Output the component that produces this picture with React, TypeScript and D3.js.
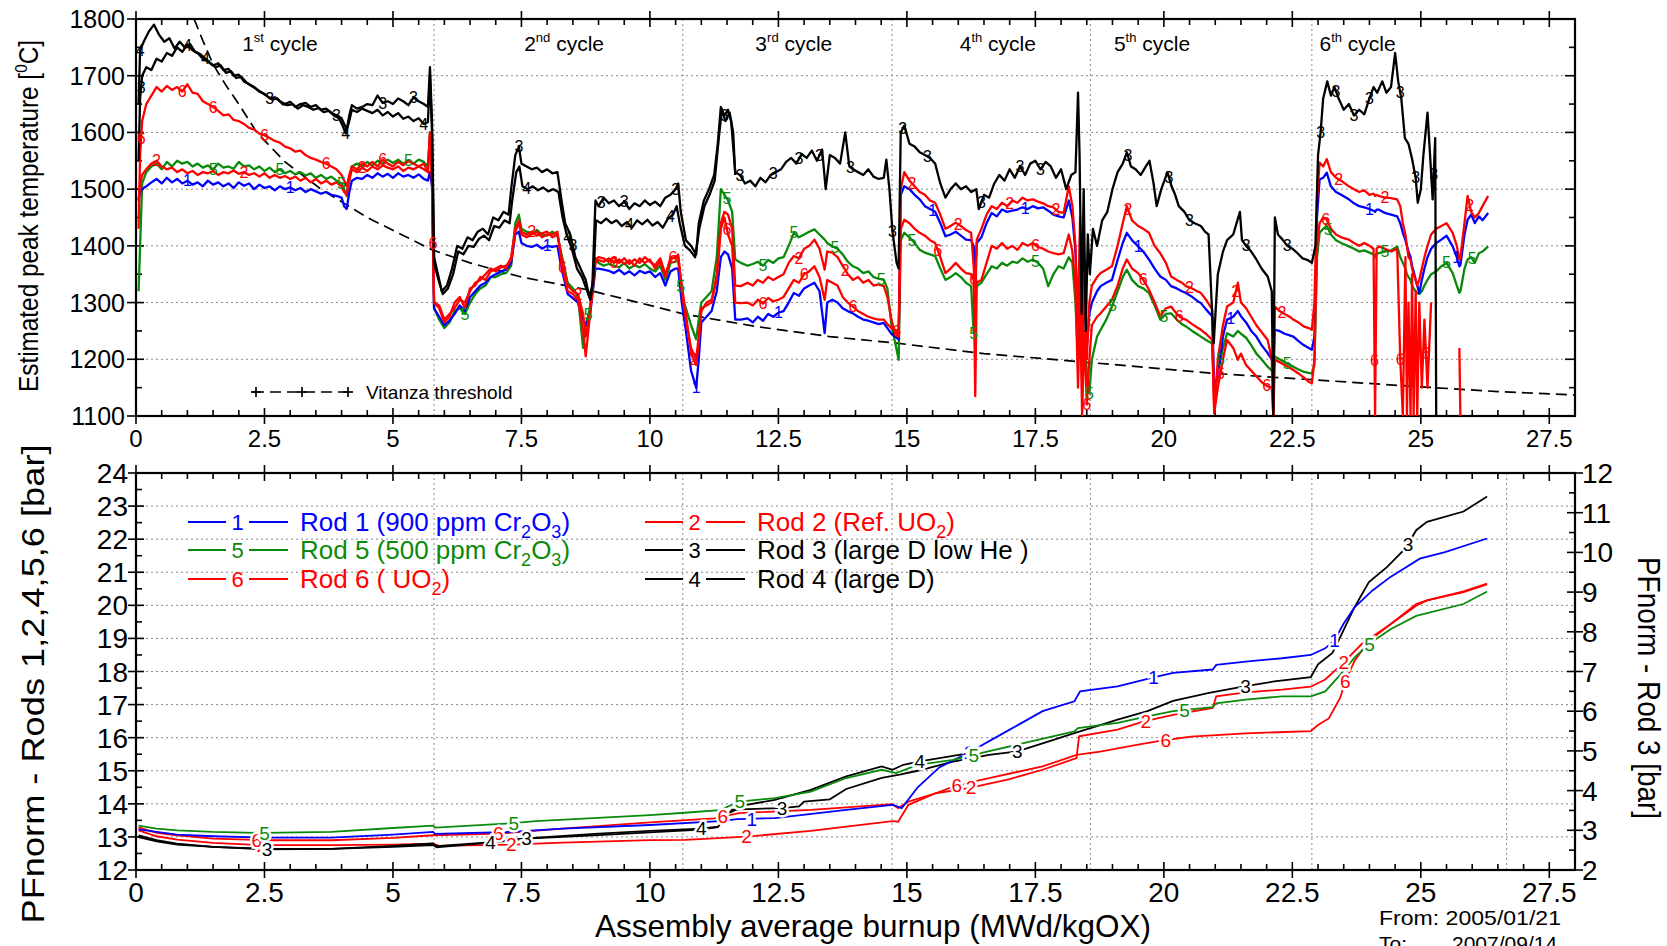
import React, { useEffect, useRef } from "react";
import * as d3 from "d3";

type Pt = [number, number | null];

const W = 1667;
const H = 946;

// ---------- axes / annotations ----------
const burnupTicks = [0, 2.5, 5, 7.5, 10, 12.5, 15, 17.5, 20, 22.5, 25, 27.5];
const tempTicks = [1100, 1200, 1300, 1400, 1500, 1600, 1700, 1800];
const pfLeftTicks = [12, 13, 14, 15, 16, 17, 18, 19, 20, 21, 22, 23, 24];
const pfRightTicks = [2, 3, 4, 5, 6, 7, 8, 9, 10, 11, 12];
const cycleEnds = [5.8, 10.64, 14.71, 18.57, 22.88];
const lastCycleEnd = 26.67;
const cycleNumbers = ["1", "2", "3", "4", "5", "6"];
const cycleSuffix = ["st", "nd", "rd", "th", "th", "th"];
const cycleLabelX = [2.8, 8.33, 12.8, 16.77, 19.77, 23.77];

// ---------- top: estimated peak temperature ----------
// rows: [burnup, rod2, rod6, rod5, rod1]
const cycle1Temps = [
  [0.05, 1480, 1430, 1320, 1480], [0.08, 1510, 1560, 1400, 1495], [0.12, 1525, 1620, 1510, 1500],
  [0.2, 1535, 1650, 1530, 1505], [0.3, 1545, 1665, 1540, 1512], [0.4, 1550, 1680, 1545, 1518],
  [0.5, 1540, 1672, 1535, 1510], [0.6, 1535, 1682, 1548, 1520], [0.7, 1538, 1675, 1540, 1512],
  [0.8, 1530, 1680, 1550, 1518], [0.9, 1535, 1672, 1545, 1510], [1.0, 1528, 1685, 1548, 1515],
  [1.1, 1532, 1670, 1540, 1508], [1.2, 1525, 1668, 1545, 1512], [1.3, 1530, 1655, 1538, 1505],
  [1.4, 1528, 1650, 1542, 1515], [1.5, 1532, 1645, 1535, 1508], [1.6, 1525, 1638, 1545, 1512],
  [1.7, 1530, 1630, 1538, 1505], [1.8, 1528, 1632, 1540, 1510], [1.9, 1533, 1622, 1536, 1502],
  [2.0, 1527, 1620, 1548, 1512], [2.1, 1530, 1615, 1540, 1506], [2.2, 1525, 1608, 1542, 1510],
  [2.3, 1528, 1605, 1535, 1500], [2.4, 1522, 1598, 1540, 1508], [2.5, 1528, 1595, 1532, 1502],
  [2.6, 1520, 1590, 1538, 1505], [2.7, 1525, 1585, 1530, 1498], [2.8, 1520, 1582, 1535, 1505],
  [2.9, 1523, 1575, 1528, 1500], [3.0, 1518, 1572, 1532, 1503], [3.1, 1522, 1566, 1526, 1498],
  [3.2, 1515, 1568, 1530, 1502], [3.3, 1520, 1560, 1524, 1495], [3.4, 1512, 1555, 1528, 1500],
  [3.5, 1518, 1552, 1520, 1496], [3.6, 1510, 1548, 1525, 1492], [3.7, 1515, 1545, 1518, 1495],
  [3.8, 1508, 1540, 1522, 1490], [3.9, 1512, 1535, 1515, 1488], [4.0, 1505, 1525, 1510, 1485],
  [4.05, 1495, 1515, 1500, 1470], [4.1, 1490, 1505, 1488, 1465], [4.15, 1515, 1525, 1520, 1495],
  [4.2, 1535, 1540, 1540, 1515], [4.3, 1530, 1535, 1545, 1520], [4.4, 1538, 1545, 1540, 1518],
  [4.5, 1532, 1540, 1548, 1525], [4.6, 1540, 1548, 1542, 1520], [4.7, 1535, 1540, 1550, 1528],
  [4.8, 1542, 1552, 1545, 1522], [4.9, 1538, 1545, 1552, 1527], [5.0, 1535, 1540, 1546, 1520],
  [5.1, 1540, 1548, 1552, 1528], [5.2, 1532, 1542, 1545, 1522], [5.3, 1538, 1550, 1550, 1525],
  [5.4, 1535, 1545, 1545, 1520], [5.5, 1540, 1540, 1552, 1526], [5.6, 1535, 1545, 1548, 1518],
  [5.68, 1530, 1530, 1540, 1515], [5.72, 1595, 1600, 1600, 1530], [5.76, 1520, 1510, 1530, 1505],
];
const cycle2Temps = [
  [5.8, 1300, 1300, 1290, 1290], [5.9, 1290, 1295, 1270, 1275], [6.0, 1265, 1270, 1255, 1260],
  [6.1, 1275, 1280, 1265, 1268], [6.2, 1300, 1290, 1285, 1280], [6.3, 1310, 1305, 1290, 1295],
  [6.4, 1290, 1300, 1280, 1285], [6.5, 1325, 1320, 1300, 1310], [6.6, 1330, 1335, 1315, 1320],
  [6.7, 1345, 1340, 1325, 1330], [6.8, 1340, 1350, 1330, 1335], [6.9, 1355, 1360, 1345, 1345],
  [7.0, 1360, 1355, 1345, 1350], [7.1, 1365, 1362, 1350, 1355], [7.2, 1360, 1365, 1352, 1358],
  [7.3, 1380, 1375, 1365, 1370], [7.38, 1430, 1425, 1440, 1420], [7.45, 1445, 1440, 1455, 1425],
  [7.5, 1425, 1420, 1430, 1405], [7.6, 1420, 1415, 1425, 1400], [7.7, 1425, 1420, 1422, 1398],
  [7.8, 1418, 1425, 1428, 1402], [7.9, 1422, 1415, 1420, 1395], [8.0, 1425, 1420, 1418, 1400],
  [8.1, 1415, 1420, 1425, 1398], [8.2, 1420, 1425, 1420, 1400], [8.28, 1380, 1370, 1385, 1360],
  [8.4, 1330, 1320, 1335, 1315], [8.5, 1320, 1315, 1325, 1308], [8.6, 1315, 1305, 1310, 1300],
  [8.7, 1280, 1250, 1220, 1270], [8.75, 1240, 1205, 1260, 1260], [8.83, 1280, 1275, 1290, 1275],
  [8.94, 1375, 1370, 1378, 1360], [9.0, 1380, 1375, 1370, 1360], [9.1, 1378, 1372, 1365, 1358],
  [9.2, 1372, 1378, 1368, 1356], [9.3, 1380, 1370, 1365, 1352], [9.4, 1370, 1376, 1362, 1358],
  [9.5, 1378, 1368, 1370, 1350], [9.6, 1368, 1375, 1360, 1355], [9.7, 1376, 1365, 1366, 1348],
  [9.8, 1370, 1378, 1362, 1356], [9.9, 1380, 1370, 1368, 1352], [10.0, 1372, 1376, 1360, 1355],
  [10.1, 1366, 1360, 1355, 1345], [10.2, 1378, 1372, 1365, 1352], [10.3, 1350, 1345, 1340, 1330],
  [10.4, 1375, 1380, 1370, 1355], [10.5, 1382, 1378, 1372, 1360], [10.55, 1380, 1385, 1375, 1360],
  [10.62, 1330, 1320, 1310, 1300],
];
const cycle3Temps = [
  [10.7, 1280, 1270, 1290, 1250], [10.8, 1210, 1220, 1260, 1180], [10.9, 1190, 1200, 1235, 1150],
  [10.95, 1230, 1240, 1270, 1200], [11.0, 1290, 1285, 1300, 1265], [11.1, 1295, 1300, 1310, 1275],
  [11.2, 1300, 1305, 1320, 1285], [11.3, 1350, 1340, 1380, 1320], [11.38, 1440, 1430, 1500, 1380],
  [11.45, 1460, 1450, 1490, 1390], [11.52, 1455, 1420, 1480, 1385], [11.6, 1430, 1400, 1460, 1360],
  [11.66, 1330, 1300, 1376, 1270], [11.77, 1329, 1299, 1370, 1270], [11.9, 1335, 1300, 1365, 1272],
  [12.0, 1330, 1295, 1368, 1265], [12.1, 1340, 1305, 1372, 1275], [12.2, 1335, 1298, 1365, 1268],
  [12.3, 1345, 1308, 1375, 1280], [12.4, 1340, 1302, 1370, 1275], [12.5, 1345, 1305, 1378, 1282],
  [12.6, 1350, 1310, 1380, 1285], [12.7, 1370, 1325, 1400, 1300], [12.8, 1382, 1340, 1423, 1317],
  [12.9, 1378, 1335, 1415, 1312], [13.0, 1395, 1350, 1420, 1325], [13.1, 1400, 1355, 1425, 1330],
  [13.2, 1411, 1364, 1429, 1335], [13.3, 1395, 1345, 1420, 1320], [13.4, 1358, 1305, 1411, 1246],
  [13.45, 1390, 1340, 1405, 1300], [13.55, 1388, 1335, 1399, 1305], [13.65, 1380, 1330, 1395, 1300],
  [13.75, 1365, 1310, 1385, 1290], [13.85, 1350, 1300, 1372, 1285], [13.95, 1340, 1293, 1364, 1281],
  [14.05, 1345, 1285, 1360, 1275], [14.15, 1335, 1280, 1352, 1270], [14.25, 1340, 1275, 1355, 1268],
  [14.35, 1330, 1272, 1345, 1265], [14.45, 1332, 1270, 1342, 1262], [14.55, 1329, 1270, 1340, 1264],
  [14.62, 1310, 1262, 1325, 1255], [14.7, 1270, 1255, 1260, 1245], [14.77, 1246, 1252, 1230, 1240],
  [14.84, 1240, 1245, 1199, 1235],
];
const cycle4Temps = [
  [14.88, 1500, 1430, 1410, 1490], [14.95, 1530, 1446, 1423, 1505], [15.05, 1515, 1440, 1415, 1500],
  [15.15, 1505, 1430, 1405, 1490], [15.25, 1495, 1423, 1393, 1482], [15.35, 1490, 1418, 1388, 1470],
  [15.45, 1480, 1410, 1385, 1465], [15.55, 1476, 1405, 1382, 1460], [15.65, 1455, 1380, 1360, 1440],
  [15.75, 1430, 1352, 1340, 1417], [15.85, 1435, 1360, 1345, 1420], [15.95, 1441, 1370, 1352, 1425],
  [16.05, 1435, 1360, 1345, 1418], [16.15, 1428, 1352, 1335, 1411], [16.25, 1423, 1350, 1329, 1410],
  [16.3, 1364, 1340, 1246, 1400], [16.33, 1300, 1135, 1330, 1350], [16.36, 1411, 1335, 1329, 1405],
  [16.45, 1430, 1340, 1335, 1415], [16.55, 1455, 1370, 1350, 1440], [16.65, 1470, 1400, 1364, 1458],
  [16.75, 1465, 1395, 1360, 1452], [16.85, 1476, 1405, 1370, 1464], [16.95, 1470, 1395, 1365, 1460],
  [17.05, 1480, 1400, 1372, 1462], [17.15, 1476, 1393, 1370, 1464], [17.25, 1485, 1405, 1378, 1468],
  [17.35, 1480, 1400, 1372, 1465], [17.45, 1482, 1405, 1376, 1470], [17.55, 1478, 1398, 1370, 1466],
  [17.65, 1475, 1395, 1360, 1468], [17.75, 1470, 1390, 1329, 1462], [17.85, 1468, 1387, 1350, 1455],
  [17.95, 1460, 1385, 1364, 1452], [18.05, 1458, 1387, 1360, 1450], [18.15, 1505, 1420, 1380, 1480],
  [18.22, 1470, 1390, 1370, 1450], [18.28, 1400, 1330, 1300, 1390], [18.33, 1250, 1150, 1200, 1260],
  [18.37, 1450, 1300, 1280, 1420], [18.41, 1150, 1100, 1160, 1200], [18.45, 1380, 1250, 1240, 1350],
  [18.5, 1200, 1120, 1180, 1220], [18.55, 1300, 1200, 1140, 1280],
];
const cycle5Temps = [
  [18.6, 1330, 1260, 1200, 1300], [18.7, 1345, 1275, 1240, 1320], [18.77, 1352, 1281, 1252, 1329],
  [18.88, 1358, 1293, 1270, 1335], [18.99, 1364, 1305, 1293, 1340], [19.1, 1400, 1330, 1320, 1375],
  [19.2, 1440, 1360, 1345, 1405], [19.28, 1470, 1376, 1358, 1423], [19.38, 1445, 1360, 1340, 1410],
  [19.5, 1435, 1352, 1329, 1399], [19.6, 1430, 1340, 1325, 1390], [19.71, 1423, 1323, 1317, 1376],
  [19.82, 1400, 1300, 1295, 1360], [19.93, 1387, 1276, 1270, 1346], [20.04, 1370, 1290, 1280, 1340],
  [20.14, 1346, 1293, 1281, 1329], [20.25, 1340, 1280, 1270, 1325], [20.35, 1335, 1272, 1262, 1320],
  [20.43, 1329, 1270, 1258, 1317], [20.55, 1325, 1262, 1250, 1310], [20.65, 1320, 1256, 1244, 1303],
  [20.72, 1317, 1252, 1240, 1299], [20.82, 1305, 1245, 1234, 1288], [20.94, 1288, 1234, 1228, 1276],
  [20.98, 1105, 1105, 1130, 1150], [21.05, 1200, 1150, 1180, 1170], [21.15, 1260, 1200, 1220, 1240],
  [21.23, 1293, 1234, 1246, 1270], [21.35, 1300, 1220, 1240, 1275], [21.44, 1335, 1199, 1250, 1285],
  [21.5, 1300, 1210, 1245, 1276], [21.6, 1290, 1190, 1238, 1265], [21.7, 1275, 1180, 1225, 1250],
  [21.8, 1260, 1170, 1210, 1240], [21.9, 1248, 1160, 1200, 1225], [22.02, 1234, 1152, 1187, 1211],
  [22.1, 1200, 1150, 1180, 1200], [22.13, 1100, 1100, 1170, 1190], [22.16, 1293, 1199, 1205, 1252],
  [22.25, 1285, 1195, 1200, 1250], [22.35, 1280, 1190, 1195, 1245], [22.45, 1275, 1185, 1190, 1242],
  [22.52, 1270, 1181, 1187, 1240], [22.62, 1265, 1175, 1182, 1232], [22.72, 1258, 1168, 1178, 1225],
  [22.82, 1255, 1160, 1176, 1220], [22.88, 1252, 1158, 1175, 1217], [22.93, 1300, 1200, 1190, 1240],
];
const cycle6Temps = [
  [22.98, 1480, 1400, 1380, 1450], [23.03, 1547, 1440, 1423, 1517], [23.1, 1540, 1450, 1430, 1520],
  [23.17, 1553, 1446, 1435, 1529], [23.25, 1530, 1430, 1420, 1505], [23.35, 1520, 1420, 1410, 1495],
  [23.45, 1515, 1415, 1405, 1490], [23.6, 1505, 1411, 1399, 1482], [23.7, 1500, 1405, 1395, 1475],
  [23.8, 1495, 1400, 1390, 1470], [23.9, 1498, 1405, 1392, 1468], [24.0, 1490, 1400, 1388, 1465],
  [24.08, 1492, 1395, 1385, 1462], [24.11, 1488, 1100, 1380, 1460], [24.14, 1490, 1395, 1387, 1464],
  [24.18, 1488, 1399, 1387, 1464], [24.3, 1485, 1395, 1390, 1458], [24.42, 1484, 1390, 1392, 1455],
  [24.54, 1482, 1395, 1399, 1452], [24.6, 1470, 1200, 1380, 1440], [24.65, 1440, 1100, 1370, 1423],
  [24.7, 1420, 1380, 1360, 1410], [24.73, 1400, 1100, 1350, 1400], [24.76, 1380, 1300, 1345, 1390],
  [24.8, 1375, 1100, 1340, 1380], [24.83, 1360, 1350, 1330, 1364], [24.86, 1350, 1100, 1325, 1355],
  [24.9, 1340, 1320, 1320, 1340], [24.93, 1330, 1100, 1317, 1330], [24.97, 1340, 1300, 1315, 1317],
  [25.02, 1360, 1150, 1320, 1340], [25.07, 1380, 1270, 1330, 1360], [25.13, 1400, 1150, 1340, 1380],
  [25.2, 1420, 1300, 1350, 1395], [25.3, 1430, null, 1355, 1405], [25.4, 1435, null, 1364, 1411],
  [25.5, 1440, null, 1370, 1418], [25.62, 1423, null, 1352, 1399], [25.7, 1400, null, 1330, 1380],
  [25.75, 1376, 1220, 1317, 1364], [25.77, 1380, 1100, 1320, 1366], [25.85, 1440, null, 1360, 1420],
  [25.91, 1488, null, 1376, 1446], [25.98, 1460, null, 1380, 1455], [26.05, 1450, null, 1370, 1440],
  [26.13, 1458, null, 1387, 1452], [26.2, 1470, null, 1390, 1445], [26.31, 1488, null, 1399, 1458],
];

const rod3Temp: Pt[] = [
  [0.05, 1550], [0.08, 1660], [0.12, 1700], [0.2, 1715], [0.3, 1710], [0.4, 1730], [0.5, 1725], [0.6, 1740],
  [0.7, 1735], [0.8, 1750], [0.9, 1742], [1.0, 1755], [1.1, 1745], [1.2, 1740], [1.3, 1730], [1.4, 1725],
  [1.5, 1718], [1.6, 1722], [1.7, 1710], [1.8, 1712], [1.9, 1700], [2.0, 1702], [2.1, 1690], [2.2, 1685],
  [2.3, 1680], [2.4, 1672], [2.5, 1668], [2.6, 1660], [2.7, 1662], [2.8, 1655], [2.9, 1650], [3.0, 1654],
  [3.1, 1645], [3.2, 1650], [3.3, 1652], [3.4, 1645], [3.5, 1648], [3.6, 1640], [3.7, 1642], [3.8, 1635],
  [3.9, 1630], [4.0, 1625], [4.05, 1615], [4.1, 1605], [4.15, 1630], [4.2, 1648], [4.3, 1642], [4.4, 1645],
  [4.5, 1650], [4.6, 1648], [4.7, 1665], [4.8, 1652], [4.9, 1655], [5.0, 1650], [5.1, 1660], [5.2, 1655],
  [5.3, 1648], [5.4, 1662], [5.5, 1655], [5.6, 1650], [5.68, 1645], [5.72, 1715], [5.76, 1620], [5.8, 1380],
  [5.85, 1360], [5.95, 1320], [6.05, 1330], [6.15, 1360], [6.25, 1400], [6.35, 1395], [6.45, 1415], [6.55, 1410],
  [6.65, 1425], [6.75, 1430], [6.85, 1420], [6.95, 1450], [7.05, 1445], [7.15, 1460], [7.25, 1455], [7.3, 1500],
  [7.38, 1560], [7.45, 1575], [7.5, 1545], [7.6, 1540], [7.7, 1535], [7.8, 1538], [7.9, 1530], [8.0, 1535],
  [8.1, 1528], [8.2, 1530], [8.28, 1480], [8.35, 1440], [8.45, 1420], [8.55, 1380], [8.65, 1360], [8.75, 1340],
  [8.82, 1310], [8.88, 1330], [8.94, 1480], [9.0, 1470], [9.1, 1485], [9.2, 1475], [9.3, 1480], [9.4, 1470],
  [9.5, 1478], [9.6, 1465], [9.7, 1475], [9.8, 1470], [9.9, 1480], [10.0, 1472], [10.1, 1478], [10.2, 1470],
  [10.3, 1485], [10.4, 1490], [10.5, 1500], [10.55, 1510], [10.6, 1460], [10.7, 1410], [10.8, 1400], [10.9, 1385],
  [10.95, 1440], [11.05, 1480], [11.15, 1500], [11.25, 1525], [11.32, 1580], [11.38, 1645], [11.45, 1630],
  [11.52, 1640], [11.58, 1620], [11.66, 1530], [11.75, 1525], [11.85, 1510], [11.95, 1515], [12.05, 1505],
  [12.15, 1520], [12.25, 1512], [12.35, 1525], [12.45, 1530], [12.55, 1535], [12.65, 1548], [12.75, 1555],
  [12.85, 1545], [12.95, 1562], [13.05, 1555], [13.15, 1568], [13.25, 1550], [13.35, 1570], [13.42, 1500],
  [13.5, 1560], [13.6, 1555], [13.7, 1545], [13.8, 1600], [13.88, 1540], [13.95, 1535], [14.05, 1530],
  [14.15, 1525], [14.25, 1535], [14.35, 1522], [14.45, 1518], [14.55, 1520], [14.6, 1552], [14.66, 1500],
  [14.72, 1425], [14.8, 1370], [14.84, 1360], [14.88, 1600], [14.95, 1612], [15.05, 1580], [15.15, 1575],
  [15.25, 1565], [15.35, 1560], [15.45, 1555], [15.55, 1545], [15.65, 1510], [15.75, 1485], [15.85, 1500],
  [15.95, 1510], [16.05, 1500], [16.15, 1505], [16.25, 1495], [16.35, 1500], [16.4, 1465], [16.5, 1490],
  [16.6, 1485], [16.7, 1510], [16.8, 1525], [16.9, 1515], [17.0, 1535], [17.1, 1520], [17.2, 1540],
  [17.3, 1525], [17.4, 1545], [17.5, 1550], [17.6, 1535], [17.7, 1548], [17.8, 1540], [17.9, 1520],
  [18.0, 1535], [18.1, 1500], [18.2, 1525], [18.28, 1530], [18.33, 1670], [18.36, 1560], [18.4, 1280],
  [18.44, 1500], [18.48, 1250], [18.52, 1420], [18.56, 1350], [18.62, 1430], [18.7, 1400], [18.8, 1445],
  [18.9, 1460], [19.0, 1500], [19.1, 1530], [19.2, 1545], [19.28, 1565], [19.36, 1540], [19.45, 1535],
  [19.55, 1525], [19.65, 1540], [19.72, 1550], [19.8, 1510], [19.86, 1470], [19.95, 1500], [20.07, 1530],
  [20.15, 1505], [20.22, 1490], [20.29, 1470], [20.4, 1460], [20.5, 1445], [20.6, 1440], [20.72, 1435],
  [20.8, 1425], [20.87, 1420], [20.93, 1300], [20.97, 1228], [21.05, 1350], [21.15, 1390], [21.23, 1410],
  [21.35, 1420], [21.48, 1460], [21.52, 1410], [21.6, 1400], [21.7, 1390], [21.8, 1376], [21.9, 1360],
  [22.02, 1346], [22.1, 1320], [22.13, 1100], [22.16, 1450], [22.22, 1420], [22.31, 1411], [22.4, 1400],
  [22.5, 1395], [22.6, 1387], [22.7, 1378], [22.8, 1375], [22.88, 1370], [22.95, 1400], [23.0, 1560],
  [23.05, 1600], [23.1, 1660], [23.18, 1690], [23.25, 1665], [23.32, 1680], [23.4, 1660], [23.5, 1640],
  [23.6, 1650], [23.7, 1630], [23.8, 1640], [23.9, 1632], [24.0, 1660], [24.08, 1680], [24.15, 1670],
  [24.25, 1690], [24.33, 1670], [24.42, 1680], [24.5, 1740], [24.56, 1690], [24.62, 1660], [24.69, 1590],
  [24.76, 1580], [24.83, 1553], [24.9, 1520], [24.94, 1476], [25.0, 1500], [25.05, 1560], [25.13, 1635],
  [25.18, 1560], [25.23, 1482], [25.28, 1590], [25.3, 1080],
];

const rod4Temp: Pt[] = [
  [0.05, 1650], [0.08, 1745], [0.15, 1760], [0.25, 1778], [0.35, 1790], [0.45, 1772], [0.55, 1760],
  [0.65, 1766], [0.75, 1748], [0.85, 1760], [0.95, 1750], [1.05, 1756], [1.15, 1742], [1.25, 1738],
  [1.35, 1730], [1.45, 1722], [1.55, 1715], [1.65, 1718], [1.75, 1705], [1.85, 1708], [1.95, 1696],
  [2.05, 1698], [2.15, 1688], [2.25, 1682], [2.35, 1676], [2.45, 1670], [2.55, 1664], [2.65, 1658],
  [2.75, 1660], [2.85, 1650], [2.95, 1648], [3.05, 1650], [3.15, 1642], [3.25, 1648], [3.35, 1645],
  [3.45, 1640], [3.55, 1643], [3.65, 1636], [3.75, 1638], [3.85, 1630], [3.95, 1625], [4.02, 1612],
  [4.08, 1598], [4.15, 1620], [4.2, 1640], [4.3, 1636], [4.4, 1642], [4.5, 1638], [4.6, 1634], [4.7, 1640],
  [4.8, 1630], [4.9, 1636], [5.0, 1628], [5.1, 1634], [5.2, 1624], [5.3, 1628], [5.4, 1620], [5.5, 1625],
  [5.6, 1615], [5.68, 1618], [5.72, 1700], [5.76, 1600], [5.8, 1370], [5.87, 1345], [5.97, 1315],
  [6.07, 1325], [6.17, 1350], [6.27, 1390], [6.37, 1385], [6.47, 1400], [6.57, 1398], [6.67, 1412],
  [6.77, 1418], [6.87, 1410], [6.97, 1435], [7.07, 1432], [7.17, 1445], [7.27, 1440], [7.32, 1480],
  [7.4, 1530], [7.46, 1540], [7.52, 1505], [7.62, 1500], [7.72, 1505], [7.82, 1498], [7.92, 1503],
  [8.02, 1496], [8.12, 1500], [8.22, 1495], [8.3, 1450], [8.38, 1420], [8.48, 1395], [8.58, 1360],
  [8.68, 1345], [8.78, 1320], [8.84, 1305], [8.9, 1340], [8.95, 1445], [9.05, 1440], [9.15, 1448],
  [9.25, 1440], [9.35, 1445], [9.45, 1435], [9.55, 1442], [9.65, 1432], [9.75, 1445], [9.85, 1438],
  [9.95, 1446], [10.05, 1436], [10.15, 1442], [10.25, 1432], [10.35, 1448], [10.45, 1455], [10.52, 1470],
  [10.58, 1440], [10.68, 1400], [10.78, 1392], [10.88, 1380], [10.96, 1430], [11.06, 1470], [11.16, 1490],
  [11.26, 1515], [11.34, 1590], [11.4, 1640], [11.47, 1620], [11.55, 1635], [11.62, 1600], [11.66, 1525],
];

const vitanzaThreshold: Pt[] = [
  [1.13, 1800], [1.3, 1762], [1.5, 1720], [1.75, 1683], [2.0, 1650], [2.35, 1600], [2.9, 1548],
  [3.6, 1500], [4.5, 1450], [5.76, 1393], [6.5, 1370], [7.5, 1345], [8.76, 1323], [10.0, 1295],
  [10.65, 1280], [12.05, 1258], [13.5, 1240], [14.84, 1228], [16.5, 1210], [18.33, 1196],
  [20.0, 1183], [21.0, 1175], [22.88, 1164], [24.9, 1152], [26.5, 1143], [28.0, 1137],
];

// label positions (burnup) along the temperature traces
const rod1TempLabels = [1.0, 3.0, 8.0, 10.9, 12.5, 15.5, 17.3, 19.5, 21.3, 24.0, 25.7];
const rod2TempLabels = [0.4, 2.1, 4.4, 7.7, 8.6, 10.85, 12.9, 13.8, 15.1, 16.0, 17.0, 17.9, 19.3, 20.5, 21.4, 22.3, 23.4, 24.3, 25.95];
const rod3TempLabels = [0.1, 2.6, 3.9, 4.8, 5.4, 7.45, 8.5, 9.05, 9.5, 10.5, 11.45, 11.75, 12.4, 12.9, 13.3, 13.9, 14.72, 14.92, 15.4, 16.45, 17.2, 17.6, 19.3, 20.1, 20.5, 21.6, 22.4, 23.05, 23.35, 23.7, 24.0, 24.6, 24.9, 25.25];
const rod4TempLabels = [0.08, 1.0, 1.35, 4.08, 5.6, 7.6, 8.4, 9.6, 10.4];
const rod5TempLabels = [1.5, 2.8, 4.0, 5.3, 6.4, 8.8, 10.6, 11.5, 12.2, 12.8, 13.6, 14.5, 15.1, 16.3, 17.5, 18.55, 19.0, 20.0, 21.1, 22.4, 23.2, 24.3, 25.5, 26.0];
const rod6TempLabels = [0.1, 0.9, 1.5, 2.5, 3.7, 4.8, 5.78, 8.3, 9.3, 10.45, 11.5, 12.2, 13.0, 13.95, 14.8, 15.6, 16.3, 17.5, 18.5, 19.6, 20.3, 21.1, 22.0, 23.15, 24.1, 24.6, 25.1];

// ---------- bottom: normalised plenum pressure ----------
const rod1Press: Pt[] = [
  [0.05, 13.23], [0.4, 13.15], [0.8, 13.07], [1.5, 13.02], [2.5, 12.98], [3.8, 12.98], [5.0, 13.07],
  [5.78, 13.15], [5.82, 13.09], [7.3, 13.15], [8.3, 13.25], [10.0, 13.36], [11.36, 13.48], [11.7, 13.54],
  [12.43, 13.57], [13.82, 13.82], [14.72, 13.97], [14.9, 13.87], [15.21, 14.5], [15.63, 15.1],
  [16.25, 15.59], [16.94, 16.19], [17.64, 16.8], [18.26, 17.1], [18.37, 17.4], [19.1, 17.55],
  [19.82, 17.83], [20.18, 17.96], [20.95, 18.06], [21.02, 18.2], [21.59, 18.3], [22.3, 18.4],
  [22.86, 18.5], [23.14, 18.7], [23.32, 18.95], [23.5, 19.45], [23.71, 19.94], [24.06, 20.45],
  [24.41, 20.86], [24.98, 21.41], [25.47, 21.61], [26.29, 22.02],
];
const rod2Press: Pt[] = [
  [0.05, 13.2], [0.4, 13.02], [0.8, 12.92], [1.5, 12.82], [2.5, 12.75], [3.8, 12.75], [5.0, 12.77],
  [5.78, 12.8], [5.9, 12.73], [7.3, 12.77], [8.3, 12.83], [10.0, 12.9], [10.69, 12.91], [11.88, 13.01],
  [13.13, 13.18], [13.82, 13.31], [14.72, 13.48], [14.83, 13.46], [15.03, 13.97], [15.56, 14.32],
  [16.18, 14.47], [17.0, 14.75], [17.64, 15.03], [18.3, 15.38], [18.35, 16.04], [19.1, 16.24],
  [19.61, 16.49], [20.18, 16.69], [20.95, 16.9], [21.02, 17.25], [21.59, 17.37], [22.3, 17.45],
  [22.86, 17.54], [23.14, 17.76], [23.43, 18.17], [23.85, 18.83], [24.41, 19.43], [24.91, 19.99],
  [25.12, 20.15], [25.83, 20.4], [26.29, 20.63],
];
const rod3Press: Pt[] = [
  [0.05, 2.83], [0.4, 2.72], [0.8, 2.64], [1.5, 2.58], [2.5, 2.52], [3.8, 2.53], [5.0, 2.58], [5.78, 2.63],
  [5.85, 2.57], [7.0, 2.7], [7.6, 2.79], [9.0, 2.88], [10.0, 2.95], [11.0, 3.02], [11.32, 3.08],
  [11.6, 3.52], [12.57, 3.56], [12.9, 3.6], [13.0, 3.72], [13.5, 3.78], [13.82, 4.04], [14.51, 4.32],
  [14.86, 4.4], [15.21, 4.5], [15.9, 4.73], [16.6, 4.9], [17.15, 4.99], [17.67, 5.2], [18.26, 5.45],
  [18.76, 5.65], [19.1, 5.79], [19.68, 6.0], [20.18, 6.26], [20.88, 6.46], [21.59, 6.63], [22.15, 6.75],
  [22.86, 6.86], [23.0, 7.18], [23.28, 7.47], [23.46, 7.94], [23.71, 8.62], [23.99, 9.25], [24.34, 9.63],
  [24.7, 10.1], [24.91, 10.56], [25.12, 10.77], [25.83, 11.03], [26.29, 11.41],
];
const rod4Press: Pt[] = [
  [0.05, 13.05], [0.4, 12.9], [0.8, 12.8], [1.5, 12.7], [2.5, 12.64], [3.8, 12.64], [5.0, 12.73],
  [5.78, 12.8], [5.85, 12.72], [7.0, 12.85], [7.5, 12.95], [9.0, 13.1], [10.0, 13.18], [11.0, 13.25],
  [11.32, 13.31], [11.53, 13.72], [11.88, 13.97], [12.43, 14.12], [13.13, 14.42], [13.82, 14.83],
  [14.51, 15.13], [14.72, 15.03], [14.93, 15.18], [15.25, 15.28], [16.25, 15.54],
];
const rod5Press: Pt[] = [
  [0.05, 13.34], [0.4, 13.25], [0.8, 13.2], [1.5, 13.15], [2.5, 13.12], [3.8, 13.15], [5.0, 13.27],
  [5.78, 13.34], [5.83, 13.28], [7.28, 13.41], [7.78, 13.48], [10.0, 13.66], [10.67, 13.73],
  [11.36, 13.81], [11.74, 14.07], [12.43, 14.17], [13.13, 14.37], [13.82, 14.78], [14.51, 15.03],
  [14.79, 14.93], [15.21, 15.18], [15.9, 15.33], [16.6, 15.59], [17.29, 15.84], [18.26, 16.19],
  [18.33, 16.29], [19.1, 16.45], [19.68, 16.64], [20.18, 16.8], [20.95, 16.92], [21.02, 17.04],
  [21.59, 17.15], [22.3, 17.25], [22.86, 17.25], [23.14, 17.4], [23.43, 17.9], [23.71, 18.42],
  [23.99, 18.83], [24.41, 19.28], [24.91, 19.68], [25.83, 20.04], [26.29, 20.42],
];
const rod6Press: Pt[] = [
  [0.05, 13.29], [0.4, 13.12], [0.8, 13.05], [1.5, 12.95], [2.5, 12.9], [3.8, 12.9], [5.0, 12.97],
  [5.78, 13.05], [7.08, 13.1], [8.3, 13.25], [10.0, 13.44], [11.26, 13.56], [11.42, 13.62],
  [11.74, 13.72], [13.13, 13.82], [14.72, 13.99], [14.83, 13.87], [15.03, 14.07], [15.56, 14.32],
  [15.97, 14.56], [16.6, 14.78], [17.64, 15.13], [18.3, 15.48], [18.76, 15.58], [19.47, 15.78],
  [20.04, 15.93], [20.53, 16.03], [21.59, 16.13], [22.86, 16.2], [23.0, 16.38], [23.21, 16.58],
  [23.43, 17.2], [23.53, 17.7], [23.71, 18.32], [23.99, 18.93], [24.41, 19.43], [24.91, 20.04],
  [25.12, 20.15], [25.83, 20.42], [26.29, 20.66],
];

const rod1PressLabels = [11.98, 16.2, 19.8, 23.32];
const rod2PressLabels = [2.45, 7.3, 11.88, 16.25, 19.65, 23.5];
const rod3PressLabels = [2.55, 7.6, 12.57, 17.15, 21.59, 24.75];
const rod4PressLabels = [6.9, 11.0, 15.25];
const rod5PressLabels = [2.5, 7.35, 11.75, 16.3, 20.4, 24.0];
const rod6PressLabels = [2.35, 7.05, 11.42, 15.97, 20.04, 23.53];

const BLUE = "#0000ff";
const RED = "#ff0000";
const GREEN = "#0a8a0a";
const BLACK = "#000000";
const FONT = "'Liberation Sans', Arial, Helvetica, sans-serif";

// legend text: [text, isSubscript]
const legendCol1 = [
  { num: "1", color: BLUE, parts: [["Rod 1 (900 ppm Cr", 0], ["2", 1], ["O", 0], ["3", 1], [")", 0]] },
  { num: "5", color: GREEN, parts: [["Rod 5 (500 ppm Cr", 0], ["2", 1], ["O", 0], ["3", 1], [")", 0]] },
  { num: "6", color: RED, parts: [["Rod 6 ( UO", 0], ["2", 1], [")", 0]] },
];
const legendCol2 = [
  { num: "2", color: RED, parts: [["Rod 2 (Ref. UO", 0], ["2", 1], [")", 0]] },
  { num: "3", color: BLACK, parts: [["Rod 3 (large D low He )", 0]] },
  { num: "4", color: BLACK, parts: [["Rod 4 (large D)", 0]] },
];

function valueAt(s: Pt[], xv: number): number | null {
  const i = d3.bisector((d: Pt) => d[0]).left(s, xv);
  const a = s[Math.max(0, i - 1)];
  const b = s[Math.min(s.length - 1, i)];
  if (a[1] == null || b[1] == null) return (a[1] ?? b[1]) as number | null;
  if (b[0] === a[0]) return a[1];
  const t = (xv - a[0]) / (b[0] - a[0]);
  return a[1] + t * ((b[1] as number) - a[1]);
}

function draw(svgEl: SVGSVGElement) {
  const svg = d3.select(svgEl);
  svg.selectAll("*").remove();
  svg.append("rect").attr("width", W).attr("height", H).attr("fill", "#fff");

  const L = 136, R = 1575;
  const T1 = 19, B1 = 416;
  const T2 = 473, B2 = 870;

  const x = d3.scaleLinear().domain([0, 28]).range([L, R]);
  const yT = d3.scaleLinear().domain([1100, 1800]).range([B1, T1]);
  const yP = d3.scaleLinear().domain([12, 24]).range([B2, T2]);
  const yR = d3.scaleLinear().domain([2, 12]).range([B2, T2]);

  const defs = svg.append("defs");
  defs.append("clipPath").attr("id", "clipTop").append("rect")
    .attr("x", L).attr("y", T1).attr("width", R - L).attr("height", B1 - T1);
  defs.append("clipPath").attr("id", "clipBot").append("rect")
    .attr("x", L).attr("y", T2).attr("width", R - L).attr("height", B2 - T2);

  const grid = (g: any, x1: number, y1: number, x2: number, y2: number) =>
    g.append("line").attr("x1", x1).attr("y1", y1).attr("x2", x2).attr("y2", y2)
      .attr("stroke", "#8a8a8a").attr("stroke-width", 1).attr("stroke-dasharray", "2,3");

  // ---- grids ----
  const gg = svg.append("g");
  tempTicks.slice(1, -1).forEach((v) => grid(gg, L, yT(v), R, yT(v)));
  cycleEnds.forEach((v) => grid(gg, x(v), T1, x(v), B1));
  pfLeftTicks.slice(1, -1).forEach((v) => grid(gg, L, yP(v), R, yP(v)));
  [...cycleEnds, lastCycleEnd].forEach((v) => grid(gg, x(v), T2, x(v), B2));

  // ---- axes ----
  const ax = svg.append("g").attr("stroke", "#000").attr("stroke-width", 1.6);
  const tick = (x1: number, y1: number, x2: number, y2: number) =>
    ax.append("line").attr("x1", x1).attr("y1", y1).attr("x2", x2).attr("y2", y2);
  const minorX = d3.range(0, 28.001, 0.5).filter((v) => Math.abs(v / 2.5 - Math.round(v / 2.5)) > 1e-6);

  [[T1, B1], [T2, B2]].forEach(([t, b]) => {
    burnupTicks.forEach((v) => {
      tick(x(v), b - 8, x(v), b + 8);
      tick(x(v), t - 8, x(v), t + 8);
    });
    minorX.forEach((v) => {
      tick(x(v), b, x(v), b - 6);
      tick(x(v), t, x(v), t + 6);
    });
  });
  tempTicks.forEach((v) => {
    tick(L - 9, yT(v), L + 8, yT(v));
    tick(R, yT(v), R - 10, yT(v));
  });
  d3.range(1150, 1800, 100).forEach((v) => {
    tick(L, yT(v), L + 6, yT(v));
    tick(R, yT(v), R - 6, yT(v));
  });
  pfLeftTicks.forEach((v) => tick(L - 8, yP(v), L + 8, yP(v)));
  d3.range(12.5, 24, 1).forEach((v) => tick(L, yP(v), L + 6, yP(v)));
  pfRightTicks.forEach((v) => tick(R - 8, yR(v), R + 8, yR(v)));
  d3.range(2.5, 12, 1).forEach((v) => tick(R, yR(v), R - 6, yR(v)));

  [[T1, B1], [T2, B2]].forEach(([t, b]) => {
    svg.append("rect").attr("x", L).attr("y", t).attr("width", R - L).attr("height", b - t)
      .attr("fill", "none").attr("stroke", "#000").attr("stroke-width", 2.2);
  });

  // tick labels
  const txt = svg.append("g").attr("font-family", FONT).attr("fill", "#000");
  tempTicks.forEach((v) =>
    txt.append("text").attr("x", L - 11).attr("y", yT(v)).attr("dy", "0.36em")
      .attr("text-anchor", "end").attr("font-size", 25).text(String(v)));
  burnupTicks.forEach((v) =>
    txt.append("text").attr("x", x(v)).attr("y", B1 + 31)
      .attr("text-anchor", "middle").attr("font-size", 24).text(String(v)));
  pfLeftTicks.forEach((v) =>
    txt.append("text").attr("x", L - 8).attr("y", yP(v)).attr("dy", "0.36em")
      .attr("text-anchor", "end").attr("font-size", 28).text(String(v)));
  pfRightTicks.forEach((v) =>
    txt.append("text").attr("x", R + 7).attr("y", yR(v)).attr("dy", "0.36em")
      .attr("text-anchor", "start").attr("font-size", 28).text(String(v)));
  burnupTicks.forEach((v) =>
    txt.append("text").attr("x", x(v)).attr("y", B2 + 32)
      .attr("text-anchor", "middle").attr("font-size", 28).text(String(v)));

  // axis titles
  const yt = txt.append("text").attr("transform", "translate(38,216) rotate(-90)")
    .attr("text-anchor", "middle").attr("font-size", 27)
    .attr("textLength", 352).attr("lengthAdjust", "spacingAndGlyphs");
  yt.append("tspan").text("Estimated peak temperature  [");
  yt.append("tspan").attr("font-size", 17).attr("dy", -11).text("0");
  yt.append("tspan").attr("dy", 11).text("C]");

  txt.append("text").attr("transform", "translate(44,684) rotate(-90)")
    .attr("text-anchor", "middle").attr("font-size", 32)
    .attr("textLength", 479).attr("lengthAdjust", "spacingAndGlyphs")
    .text("PFnorm - Rods 1,2,4,5,6 [bar]");
  txt.append("text").attr("transform", "translate(1638,688) rotate(90)")
    .attr("text-anchor", "middle").attr("font-size", 32)
    .attr("textLength", 262).attr("lengthAdjust", "spacingAndGlyphs")
    .text("PFnorm - Rod 3 [bar]");
  txt.append("text").attr("x", 873).attr("y", 937)
    .attr("text-anchor", "middle").attr("font-size", 32)
    .attr("textLength", 556).attr("lengthAdjust", "spacingAndGlyphs")
    .text("Assembly average burnup (MWd/kgOX)");
  txt.append("text").attr("x", 1379).attr("y", 925).attr("font-size", 21)
    .attr("textLength", 182).attr("lengthAdjust", "spacingAndGlyphs").text("From: 2005/01/21");
  txt.append("text").attr("x", 1379).attr("y", 951).attr("font-size", 21).text("To:");
  txt.append("text").attr("x", 1452).attr("y", 951).attr("font-size", 21).text("2007/09/14");

  // cycle labels
  cycleLabelX.forEach((cx, i) => {
    const t = txt.append("text").attr("x", x(cx)).attr("y", 51).attr("text-anchor", "middle").attr("font-size", 21);
    t.append("tspan").text(cycleNumbers[i]);
    t.append("tspan").attr("font-size", 13).attr("dy", -9).text(cycleSuffix[i]);
    t.append("tspan").attr("dy", 9).text(" cycle");
  });

  // ---- top series ----
  const tempRows = [...cycle1Temps, ...cycle2Temps, ...cycle3Temps, ...cycle4Temps, ...cycle5Temps, ...cycle6Temps];
  const col = (i: number): Pt[] => tempRows.map((r) => [r[0] as number, r[i] as number | null]);
  const rod2Temp = col(1), rod6Temp = col(2), rod5Temp = col(3), rod1Temp = col(4);

  const lineT = d3.line<Pt>().defined((d) => d[1] != null).x((d) => x(d[0])).y((d) => yT(d[1] as number));
  const top = svg.append("g").attr("clip-path", "url(#clipTop)");

  top.append("path").attr("d", lineT(vitanzaThreshold) as string).attr("fill", "none")
    .attr("stroke", "#000").attr("stroke-width", 1.7).attr("stroke-dasharray", "11,6");

  const topSeries: [Pt[], string, string, number[]][] = [
    [rod5Temp, GREEN, "5", rod5TempLabels],
    [rod1Temp, BLUE, "1", rod1TempLabels],
    [rod6Temp, RED, "6", rod6TempLabels],
    [rod2Temp, RED, "2", rod2TempLabels],
    [rod4Temp, BLACK, "4", rod4TempLabels],
    [rod3Temp, BLACK, "3", rod3TempLabels],
  ];
  topSeries.forEach(([s, c]) => {
    top.append("path").attr("d", lineT(s) as string).attr("fill", "none")
      .attr("stroke", c).attr("stroke-width", 2.3).attr("stroke-linejoin", "round");
  });
  topSeries.forEach(([s, c, n, labs]) => {
    labs.forEach((lx) => {
      const v = valueAt(s, lx);
      if (v == null) return;
      top.append("text").attr("x", x(lx)).attr("y", yT(v)).attr("dy", "0.35em")
        .attr("text-anchor", "middle").attr("font-family", FONT).attr("font-size", 16)
        .attr("fill", c).text(n);
    });
  });

  // Vitanza legend
  const vl = svg.append("g");
  vl.append("line").attr("x1", 253).attr("x2", 351).attr("y1", 392).attr("y2", 392)
    .attr("stroke", "#000").attr("stroke-width", 1.7).attr("stroke-dasharray", "11,6");
  [256, 302, 348].forEach((px) => {
    vl.append("line").attr("x1", px - 5).attr("x2", px + 5).attr("y1", 392).attr("y2", 392).attr("stroke", "#000").attr("stroke-width", 1.7);
    vl.append("line").attr("x1", px).attr("x2", px).attr("y1", 387).attr("y2", 397).attr("stroke", "#000").attr("stroke-width", 1.7);
  });
  vl.append("text").attr("x", 366).attr("y", 392).attr("dy", "0.36em").attr("font-family", FONT)
    .attr("font-size", 19).text("Vitanza threshold");

  // ---- bottom series ----
  const lineP = d3.line<Pt>().x((d) => x(d[0])).y((d) => yP(d[1] as number));
  const lineR = d3.line<Pt>().x((d) => x(d[0])).y((d) => yR(d[1] as number));
  const bot = svg.append("g").attr("clip-path", "url(#clipBot)");
  const botSeries: [Pt[], string, string, number[], any][] = [
    [rod2Press, RED, "2", rod2PressLabels, yP],
    [rod6Press, RED, "6", rod6PressLabels, yP],
    [rod4Press, BLACK, "4", rod4PressLabels, yP],
    [rod3Press, BLACK, "3", rod3PressLabels, yR],
    [rod1Press, BLUE, "1", rod1PressLabels, yP],
    [rod5Press, GREEN, "5", rod5PressLabels, yP],
  ];
  botSeries.forEach(([s, c, , , ys]) => {
    bot.append("path").attr("d", (ys === yR ? lineR(s) : lineP(s)) as string).attr("fill", "none")
      .attr("stroke", c).attr("stroke-width", 1.8);
  });
  botSeries.forEach(([s, c, n, labs, ys]) => {
    labs.forEach((lx) => {
      const v = valueAt(s, lx);
      if (v == null) return;
      bot.append("text").attr("x", x(lx)).attr("y", ys(v)).attr("dy", "0.36em")
        .attr("text-anchor", "middle").attr("font-family", FONT).attr("font-size", 19)
        .attr("fill", c).attr("stroke", "#fff").attr("stroke-width", 5)
        .attr("paint-order", "stroke").text(n);
    });
  });

  // ---- legend (bottom plot) ----
  const lg = svg.append("g").attr("font-family", FONT);
  const legendRowY = [522, 550, 579];
  const drawLegend = (items: typeof legendCol1, x0: number) => {
    items.forEach((it, i) => {
      const yy = legendRowY[i];
      lg.append("line").attr("x1", x0).attr("x2", x0 + 38).attr("y1", yy).attr("y2", yy).attr("stroke", it.color).attr("stroke-width", 1.8);
      lg.append("line").attr("x1", x0 + 61).attr("x2", x0 + 100).attr("y1", yy).attr("y2", yy).attr("stroke", it.color).attr("stroke-width", 1.8);
      lg.append("text").attr("x", x0 + 49.5).attr("y", yy).attr("dy", "0.36em").attr("text-anchor", "middle")
        .attr("font-size", 22).attr("fill", it.color).text(it.num);
      const t = lg.append("text").attr("x", x0 + 112).attr("y", yy).attr("dy", "0.36em")
        .attr("font-size", 26).attr("fill", it.color).attr("xml:space", "preserve");
      let sub = false;
      it.parts.forEach(([s, isSub]) => {
        const sp = t.append("tspan").text(s as string);
        if (isSub && !sub) { sp.attr("dy", 7).attr("font-size", 18); sub = true; }
        else if (isSub) { sp.attr("font-size", 18); }
        else if (sub) { sp.attr("dy", -7); sub = false; }
      });
    });
  };
  drawLegend(legendCol1, 188);
  drawLegend(legendCol2, 645);
}

export default function App() {
  const ref = useRef<SVGSVGElement>(null);
  useEffect(() => {
    if (ref.current) draw(ref.current);
  }, []);
  return (
    <div style={{ position: "absolute", left: 0, top: 0, width: W, height: H, overflow: "hidden", background: "#fff" }}>
      <svg ref={ref} width={W} height={H} style={{ display: "block" }} />
    </div>
  );
}
